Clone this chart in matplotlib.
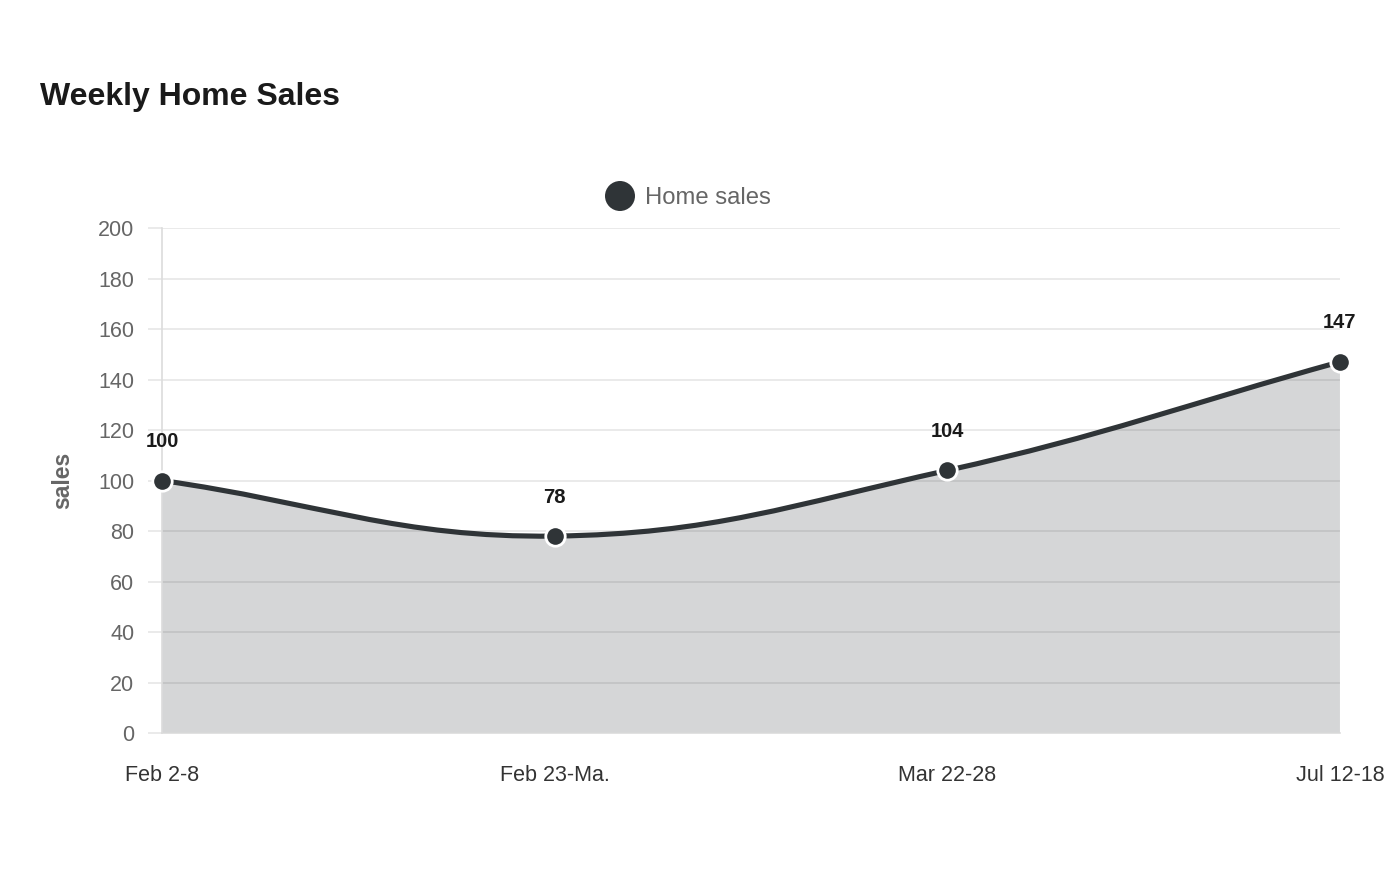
import numpy as np
import matplotlib
matplotlib.use("Agg")
import matplotlib.pyplot as plt
from matplotlib.path import Path
from matplotlib.patches import PathPatch

# Data
weeks = ["Feb 2-8", "Feb 23-Ma.", "Mar 22-28", "Jul 12-18"]
home_sales = [100, 78, 104, 147]
y_ticks = [0, 20, 40, 60, 80, 100, 120, 140, 160, 180, 200]

line_color = "#2f3437"
plt.rcParams['font.family'] = ['Liberation Sans', 'DejaVu Sans']

fig = plt.figure(figsize=(14, 8.8), dpi=100)
ax = fig.add_axes([0.1157, 0.167, 0.8414, 0.5739])

x = np.arange(len(weeks))
ax.set_xlim(0, len(weeks) - 1)
ax.set_ylim(0, 200)

# smooth line like chart.js (tension 0.4), control points in display space
pts = ax.transData.transform(np.column_stack([x, home_sales]))
t = 0.4
ctrl_prev, ctrl_next = [], []
for i in range(len(pts)):
    prev = pts[i - 1] if i > 0 else pts[i]
    cur = pts[i]
    nxt = pts[i + 1] if i < len(pts) - 1 else pts[i]
    d01 = np.hypot(*(cur - prev))
    d12 = np.hypot(*(nxt - cur))
    s01 = d01 / (d01 + d12)
    s12 = d12 / (d01 + d12)
    ctrl_prev.append(cur - t * s01 * (nxt - prev))
    ctrl_next.append(cur + t * s12 * (nxt - prev))

verts = [pts[0]]
codes = [Path.MOVETO]
for i in range(len(pts) - 1):
    verts += [ctrl_next[i], ctrl_prev[i + 1], pts[i + 1]]
    codes += [Path.CURVE4] * 3
inv = ax.transData.inverted()
verts_data = inv.transform(np.array(verts))

# filled area
fill_verts = list(verts_data) + [(x[-1], 0), (x[0], 0), verts_data[0]]
fill_codes = codes + [Path.LINETO, Path.LINETO, Path.CLOSEPOLY]
ax.add_patch(PathPatch(Path(fill_verts, fill_codes), facecolor=line_color,
                       alpha=0.2, edgecolor="none", zorder=2))
ax.add_patch(PathPatch(Path(verts_data, codes), facecolor="none",
                       edgecolor=line_color, linewidth=3.7, zorder=3,
                       capstyle="round", joinstyle="round"))

ax.plot(x, home_sales, linestyle="none", marker="o", markersize=14,
        markerfacecolor=line_color, markeredgecolor="white",
        markeredgewidth=2, zorder=4, clip_on=False)

for xi, v in zip(x, home_sales):
    ax.annotate(str(v), (xi, v), xytext=(0, 28), textcoords="offset points",
                ha="center", va="center", fontsize=14.5, fontweight="bold",
                color="#1a1a1a", zorder=5)

# axes styling
ax.set_yticks(y_ticks)
ax.set_xticks(x)
ax.set_xticklabels(weeks)
ax.grid(axis="y", color="#e6e6e6", linewidth=1.2, zorder=1)
ax.set_axisbelow(True)
for s in ["top", "right"]:
    ax.spines[s].set_visible(False)
for s in ["left", "bottom"]:
    ax.spines[s].set_color("#dcdcdc")
    ax.spines[s].set_linewidth(1.2)
ax.tick_params(axis="y", length=10, color="#e6e6e6", width=1.2, pad=10,
               labelsize=15.5, labelcolor="#666666")
ax.tick_params(axis="x", length=0, pad=23, labelsize=15.5, labelcolor="#333333")
ax.set_ylabel("sales", fontsize=16.5, fontweight="bold", color="#666666", labelpad=17)

# title and legend
fig.text(40 / 1400, 1 - 97 / 880, "Weekly Home Sales", fontsize=23,
         fontweight="bold", color="#1a1a1a", va="center", ha="left")
fig.add_artist(matplotlib.patches.Ellipse((620 / 1400, 1 - 196 / 880),
                                          30 / 1400, 30 / 880,
                                          transform=fig.transFigure,
                                          facecolor=line_color, edgecolor="none"))
fig.text(645 / 1400, 1 - 197.5 / 880, "Home sales", fontsize=17.2,
         color="#666666", va="center", ha="left")

fig.savefig("out.png", dpi=100)
